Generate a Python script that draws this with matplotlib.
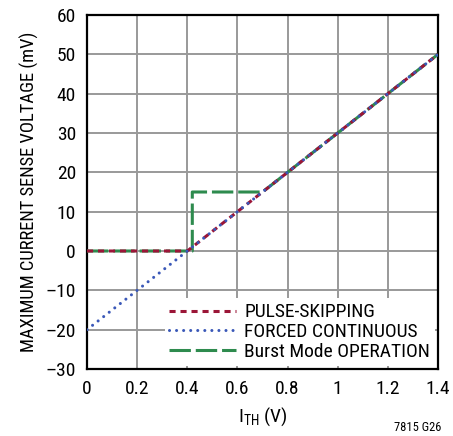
import numpy as np
import matplotlib
matplotlib.use('Agg')
import matplotlib.pyplot as plt

plt.rcParams['font.family'] = ['Roboto Condensed', 'Liberation Sans', 'DejaVu Sans']

# data (ITH in V, sense voltage in mV)
pulse_x = [0.0, 0.4, 1.4]
pulse_y = [0.0, 0.0, 50.0]
forced_x = [0.0, 1.4]
forced_y = [-20.0, 50.0]
burst_x = [0.0, 0.42, 0.42, 0.7, 1.4]
burst_y = [0.0, 0.0, 15.0, 15.0, 50.0]

xticks = [0, 0.2, 0.4, 0.6, 0.8, 1, 1.2, 1.4]
xtick_labels = ['0', '0.2', '0.4', '0.6', '0.8', '1', '1.2', '1.4']
yticks = np.arange(-30, 61, 10)
ytick_labels = [str(v).replace('-', '\u2013') for v in yticks]

fig = plt.figure(figsize=(4.53, 4.36), dpi=100)
ax = fig.add_axes([87/453, 67/436, 351/453, 354/436])

ax.plot(burst_x, burst_y, color='#2e8b4e', lw=2.2, dashes=(7, 1.6), label='Burst Mode OPERATION', zorder=3)
ax.plot(pulse_x, pulse_y, color='#9b1537', lw=2.2, dashes=(2, 1.6), label='PULSE-SKIPPING', zorder=4)
ax.plot(forced_x, forced_y, color='#3a58b8', lw=2.2, dashes=(0.01, 2.3), dash_capstyle='round',
        label='FORCED CONTINUOUS', zorder=5)

ax.set_xlim(0, 1.4)
ax.set_ylim(-30, 60)
ax.set_xticks(xticks)
ax.set_xticklabels(xtick_labels)
ax.set_yticks(yticks)
ax.set_yticklabels(ytick_labels)
ax.grid(True, color='#999999', lw=1.4)
ax.set_axisbelow(True)
for s in ax.spines.values():
    s.set_linewidth(1.6)
ax.tick_params(length=0, labelsize=14, pad=8)

ax.set_xlabel('I$_{\\mathregular{TH}}$ (V)', fontsize=14, labelpad=5)
ax.set_ylabel('MAXIMUM CURRENT SENSE VOLTAGE (mV)', fontsize=13.3, labelpad=5)

h, l = ax.get_legend_handles_labels()
order = [1, 2, 0]
leg = ax.legend([h[i] for i in order], [l[i] for i in order], loc='lower right', frameon=True,
                fontsize=14, handlelength=3.4, handletextpad=0.45, labelspacing=0.1,
                borderaxespad=0.15, borderpad=0.25, fancybox=False)
leg.get_frame().set_facecolor('white')
leg.get_frame().set_edgecolor('none')
leg.get_frame().set_alpha(1)

fig.text(441/453, 2/436, '7815 G26', fontsize=9, ha='right', va='bottom')

fig.savefig('out.png', dpi=100)
